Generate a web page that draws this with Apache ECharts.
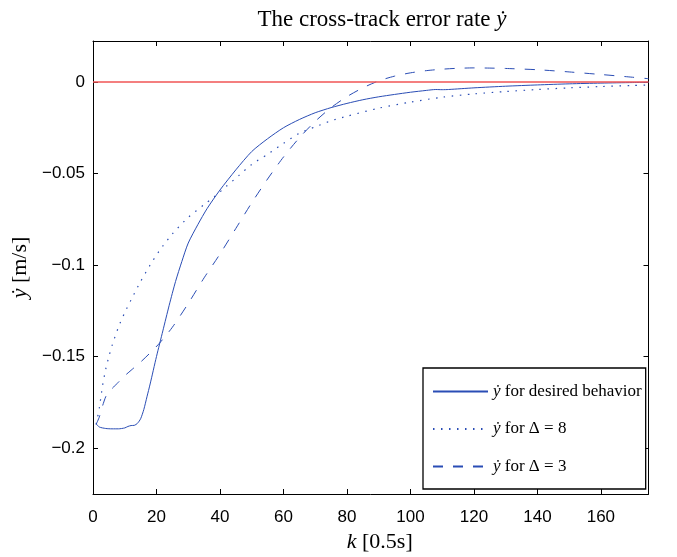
<!DOCTYPE html>
<html>
<head>
<meta charset="utf-8">
<script src="https://cdn.jsdelivr.net/npm/echarts@6/dist/echarts.min.js"></script>
<style>
  html, body { margin: 0; padding: 0; background: #fff; }
  #chart { width: 677px; height: 557px; }
</style>
</head>
<body>
<div id="chart"></div>
<script>
// Sample index k (0.5 s steps) and cross-track error rate for each case
const desiredK = [1, 2, 4, 6, 8, 10, 11, 12, 13, 14, 15, 16, 17, 18, 20, 22, 24, 26, 28, 30, 33, 36, 40, 45, 50, 55, 60, 65, 70, 75, 80, 85, 90, 95, 100, 105, 108, 110, 112, 120, 130, 140, 150, 160, 170, 175];
const desiredVal = [-0.1868, -0.1885, -0.1893, -0.1895, -0.1895, -0.189, -0.1882, -0.1877, -0.1876, -0.1865, -0.184, -0.179, -0.172, -0.165, -0.150, -0.136, -0.122, -0.109, -0.098, -0.088, -0.078, -0.069, -0.059, -0.048, -0.038, -0.031, -0.025, -0.0205, -0.0168, -0.014, -0.0117, -0.0097, -0.0081, -0.0068, -0.0056, -0.0046, -0.0041, -0.0042, -0.0041, -0.0032, -0.0023, -0.0016, -0.001, -0.0006, -0.0003, -0.0002];

const delta8K = [1, 2, 3, 4, 5, 6, 8, 10, 12, 15, 18, 21, 25, 30, 35, 38, 42, 46, 50, 55, 60, 65, 70, 75, 80, 90, 100, 110, 120, 130, 140, 150, 160, 170, 175];
const delta8Val = [-0.187, -0.178, -0.166, -0.157, -0.15, -0.144, -0.134, -0.126, -0.119, -0.109, -0.1, -0.092, -0.083, -0.074, -0.067, -0.063, -0.057, -0.051, -0.045, -0.0395, -0.0335, -0.028, -0.0245, -0.0212, -0.0187, -0.0143, -0.011, -0.0083, -0.0065, -0.0052, -0.0041, -0.0032, -0.0025, -0.0019, -0.0016];

const delta3K = [1, 2, 3, 4, 5, 6, 8, 10, 12, 15, 18, 21, 25, 30, 35, 40, 45, 50, 55, 60, 65, 70, 75, 80, 85, 90, 95, 100, 105, 110, 115, 120, 125, 130, 140, 150, 160, 170, 175];
const delta3Val = [-0.187, -0.183, -0.177, -0.172, -0.169, -0.1675, -0.164, -0.1605, -0.1575, -0.153, -0.148, -0.1426, -0.134, -0.121, -0.107, -0.094, -0.080, -0.066, -0.053, -0.041, -0.0305, -0.0215, -0.014, -0.008, -0.0032, 0.0006, 0.0032, 0.005, 0.0062, 0.007, 0.0075, 0.0077, 0.0076, 0.0074, 0.0067, 0.0055, 0.0041, 0.0026, 0.0018];

// Zero reference line
const zeroK = [0, 175];
const zeroVal = [0, 0];

// Axis limits and tick values
const xMin = 0, xMax = 175;
const yMin = -0.2251, yMax = 0.0224;
const xTicks = [0, 20, 40, 60, 80, 100, 120, 140, 160];
const yTicks = [-0.2, -0.15, -0.1, -0.05, 0];

const seriesNames = ['ẏ for desired behavior', 'ẏ for Δ = 8', 'ẏ for Δ = 3'];

const pair = (ks, vs) => ks.map((k, i) => [k, vs[i]]);

const BLUE = '#2a4db5';
const RED = '#f05555';
const SANS = 'Liberation Sans, Arial, Helvetica, sans-serif';
const SERIF = 'Liberation Serif, DejaVu Serif, Times New Roman, serif';

const chart = echarts.init(document.getElementById('chart'), null, { renderer: 'canvas' });

// Shared styling for the four sides of the axes box
const boxAxisCommon = {
  axisLine: { show: true, onZero: false, lineStyle: { color: '#000', width: 1 } },
  axisTick: { show: true, inside: true, length: 5, lineStyle: { color: '#000', width: 1 } },
  splitLine: { show: false }
};

const serifRich = (size) => ({
  i: { fontFamily: SERIF, fontStyle: 'italic', fontSize: size, color: '#000' }
});

chart.setOption({
  animation: false,
  backgroundColor: '#fff',
  title: {
    text: 'The cross-track error rate {i|ẏ}',
    left: 382,
    top: 8,
    padding: 0,
    textAlign: 'center',
    textStyle: {
      fontFamily: SERIF,
      fontSize: 23,
      fontWeight: 'normal',
      color: '#000',
      rich: serifRich(23)
    }
  },
  grid: {
    left: 93,
    right: 28.5,
    top: 41,
    bottom: 63,
    containLabel: false,
    outerBoundsMode: 'none'
  },
  legend: {
    orient: 'vertical',
    left: 423,
    top: 368,
    padding: [15, 4, 14, 9],
    itemGap: 20.5,
    itemWidth: 55,
    itemHeight: 14,
    backgroundColor: '#fff',
    borderColor: '#000',
    borderWidth: 1.3,
    borderRadius: 0,
    itemStyle: { opacity: 0 },
    data: seriesNames,
    formatter: (name) => name.replace('ẏ', '{i|ẏ}'),
    textStyle: {
      fontFamily: SERIF,
      fontSize: 17,
      color: '#000',
      rich: serifRich(17)
    }
  },
  xAxis: [
    Object.assign({}, boxAxisCommon, {
      type: 'value',
      min: xMin,
      max: xMax,
      position: 'bottom',
      axisTick: Object.assign({}, boxAxisCommon.axisTick, { customValues: xTicks }),
      axisLabel: {
        customValues: xTicks,
        margin: 15,
        fontFamily: SANS,
        fontSize: 17,
        color: '#000'
      },
      name: '{i|k} [0.5s]',
      nameLocation: 'middle',
      nameGap: 35,
      nameTextStyle: {
        fontFamily: SERIF,
        fontSize: 22,
        color: '#000',
        padding: [0, 0, 0, 18],
        rich: serifRich(22)
      }
    }),
    Object.assign({}, boxAxisCommon, {
      type: 'value',
      min: xMin,
      max: xMax,
      position: 'top',
      axisTick: Object.assign({}, boxAxisCommon.axisTick, { customValues: xTicks }),
      axisLabel: { show: false }
    })
  ],
  yAxis: [
    Object.assign({}, boxAxisCommon, {
      type: 'value',
      min: yMin,
      max: yMax,
      position: 'left',
      axisTick: Object.assign({}, boxAxisCommon.axisTick, { customValues: yTicks }),
      axisLabel: {
        customValues: yTicks,
        margin: 8,
        fontFamily: SANS,
        fontSize: 17,
        color: '#000',
        formatter: (v) => (v < 0 ? '\u2212' + String(Math.abs(v)) : String(v))
      },
      name: '{i|ẏ} [m/s]',
      nameLocation: 'middle',
      nameGap: 52,
      nameTextStyle: {
        fontFamily: SERIF,
        fontSize: 22,
        color: '#000',
        rich: serifRich(22)
      }
    }),
    Object.assign({}, boxAxisCommon, {
      type: 'value',
      min: yMin,
      max: yMax,
      position: 'right',
      axisTick: Object.assign({}, boxAxisCommon.axisTick, { customValues: yTicks }),
      axisLabel: { show: false }
    })
  ],
  series: [
    {
      name: seriesNames[0],
      type: 'line',
      data: pair(desiredK, desiredVal),
      symbol: 'none',
      smooth: 0.25,
      color: BLUE,
      lineStyle: { color: BLUE, width: 1, type: 'solid' },
      z: 3
    },
    {
      name: seriesNames[1],
      type: 'line',
      data: pair(delta8K, delta8Val),
      symbol: 'none',
      smooth: 0.25,
      color: BLUE,
      lineStyle: { color: BLUE, width: 1.2, type: [1.5, 6.5] },
      z: 3
    },
    {
      name: seriesNames[2],
      type: 'line',
      data: pair(delta3K, delta3Val),
      symbol: 'none',
      smooth: 0.25,
      color: BLUE,
      lineStyle: { color: BLUE, width: 1, type: [10, 10] },
      z: 3
    },
    {
      name: 'reference',
      type: 'line',
      data: pair(zeroK, zeroVal),
      symbol: 'none',
      color: RED,
      lineStyle: { color: RED, width: 1.4 },
      z: 4
    }
  ]
});
</script>
</body>
</html>
